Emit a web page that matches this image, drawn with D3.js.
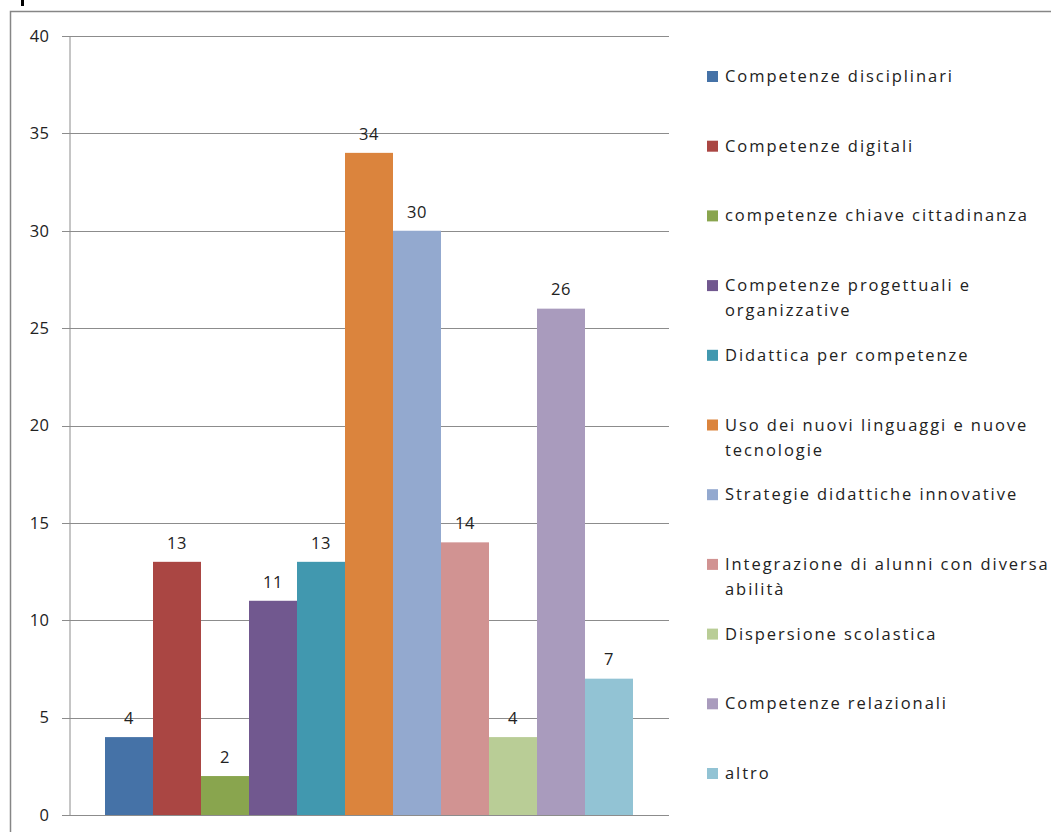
<!DOCTYPE html>
<html>
<head>
<meta charset="utf-8">
<script src="https://cdn.jsdelivr.net/npm/d3@7"></script>
<style>
  body { margin: 0; background: #fff; }
  svg { display: block; font-family: "Open Sans", "Noto Sans", sans-serif; }
</style>
</head>
<body>
<div id="chart"></div>
<script>
const seriesNames = [
  "Competenze disciplinari",
  "Competenze digitali",
  "competenze chiave cittadinanza",
  "Competenze progettuali e organizzative",
  "Didattica per competenze",
  "Uso dei nuovi linguaggi e nuove tecnologie",
  "Strategie didattiche innovative",
  "Integrazione di alunni con diversa abilità",
  "Dispersione scolastica",
  "Competenze relazionali",
  "altro"
];
const seriesValues = [4, 13, 2, 11, 13, 34, 30, 14, 4, 26, 7];
const seriesColors = [
  "#4572A7", "#AA4643", "#89A54E", "#71588F", "#4198AF", "#DB843D",
  "#93A9CF", "#D19392", "#B9CD96", "#A99BBD", "#92C3D4"
];
const yTicks = [0, 5, 10, 15, 20, 25, 30, 35, 40];

const W = 1051, H = 832;
const plot = { left: 69, right: 669, top: 36, bottom: 815 };

const svg = d3.select("#chart").append("svg")
  .attr("width", W)
  .attr("height", H);

// chart border (runs off the page on the right and bottom)
svg.append("rect")
  .attr("x", 10.5).attr("y", 11.5)
  .attr("width", W + 20).attr("height", H + 20)
  .attr("fill", "none")
  .attr("stroke", "#868686")
  .attr("stroke-width", 1.5);

// tail of the cropped title above the frame
svg.append("rect")
  .attr("x", 21).attr("y", 0)
  .attr("width", 3).attr("height", 6)
  .attr("fill", "#000");

const y = d3.scaleLinear().domain([0, 40]).range([plot.bottom, plot.top]);
const x = d3.scaleBand()
  .domain(seriesNames)
  .range([plot.left, plot.right])
  .paddingInner(0)
  .paddingOuter(0.75);

// gridlines
svg.append("g")
  .selectAll("line")
  .data(yTicks)
  .join("line")
  .attr("x1", plot.left - 7)
  .attr("x2", plot.right)
  .attr("y1", d => Math.round(y(d)) + 0.5)
  .attr("y2", d => Math.round(y(d)) + 0.5)
  .attr("stroke", "#8c8c8c")
  .attr("stroke-width", 1);

// y axis
const yAxis = svg.append("g")
  .attr("transform", `translate(${plot.left + 0.5},0)`)
  .call(d3.axisLeft(y).tickValues(yTicks).tickSize(0).tickPadding(20));
yAxis.select(".domain").attr("stroke", "#8c8c8c");
yAxis.selectAll("text")
  .attr("font-size", 16.5)
  .attr("font-family", "Open Sans, sans-serif")
  .attr("letter-spacing", 0.5)
  .attr("fill", "#222");

// bars
svg.append("g")
  .selectAll("rect")
  .data(seriesValues)
  .join("rect")
  .attr("x", (d, i) => x(seriesNames[i]))
  .attr("y", d => y(d))
  .attr("width", x.bandwidth())
  .attr("height", d => plot.bottom - y(d))
  .attr("fill", (d, i) => seriesColors[i]);

// value labels
svg.append("g")
  .selectAll("text")
  .data(seriesValues)
  .join("text")
  .attr("x", (d, i) => x(seriesNames[i]) + x.bandwidth() / 2)
  .attr("y", d => y(d) - 19)
  .attr("dy", "0.35em")
  .attr("text-anchor", "middle")
  .attr("font-size", 16.5)
  .attr("letter-spacing", 0.5)
  .attr("fill", "#222")
  .text(d => d);

// legend
const legendX = 707, textX = 725, maxTextW = 340;
const legendTop = 76, legendStep = 69.7, lineH = 25;
const legendFont = 16.5;
const legend = svg.append("g");

// match the wide spacing of the original text
const probe = legend.append("text").attr("font-size", legendFont).text(seriesNames[0]);
const baseW = probe.node().getComputedTextLength();
const spacing = Math.max(0, (227 - baseW) / (seriesNames[0].length - 1));
probe.remove();

seriesNames.forEach((name, i) => {
  const cy = legendTop + i * legendStep;
  legend.append("rect")
    .attr("x", legendX)
    .attr("y", cy - 5)
    .attr("width", 11)
    .attr("height", 11)
    .attr("fill", seriesColors[i]);

  const t = legend.append("text")
    .attr("x", textX)
    .attr("y", cy + 6)
    .attr("font-size", legendFont)
    .attr("letter-spacing", spacing)
    .attr("fill", "#222");

  // wrap words to the legend width
  const words = name.split(" ");
  let line = [];
  let tspan = t.append("tspan").attr("x", textX).attr("dy", 0);
  words.forEach(w => {
    line.push(w);
    tspan.text(line.join(" "));
    if (tspan.node().getComputedTextLength() > maxTextW && line.length > 1) {
      line.pop();
      tspan.text(line.join(" "));
      line = [w];
      tspan = t.append("tspan").attr("x", textX).attr("dy", lineH).text(w);
    }
  });
});
</script>
</body>
</html>
